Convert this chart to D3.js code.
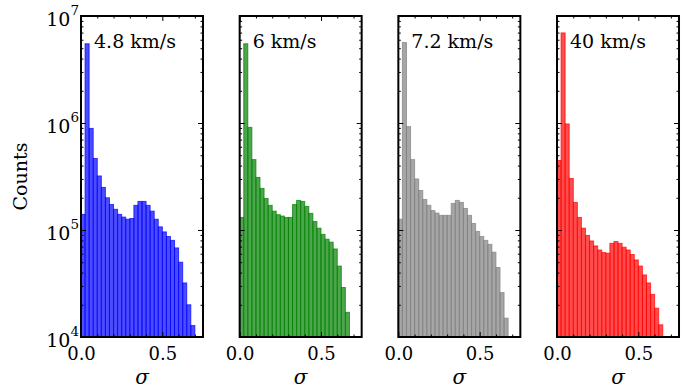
<!DOCTYPE html>
<html>
<head>
<meta charset="utf-8">
<script src="https://cdn.jsdelivr.net/npm/d3@7"></script>
<style>
    body { margin: 0; background: #fff; }
    text { font-family: "DejaVu Serif", serif; fill: #000; }
</style>
</head>
<body>
<svg id="chart"></svg>
<script>
// histogram counts per 0.025-wide sigma bin, starting at 0
const binWidth = 0.025;
const counts48 = [1.4e5, 5.5e6, 8.9e5, 4.66e5, 3.2e5, 2.5e5, 2.0e5, 1.73e5, 1.56e5, 1.4e5, 1.32e5, 1.26e5, 1.28e5, 1.7e5,
    1.85e5, 1.85e5, 1.7e5, 1.5e5, 1.26e5, 1.07e5, 9.6e4, 8.7e4, 8.0e4, 6.8e4, 5.0e4, 3.2e4, 2.0e4, 1.28e4];
const counts6 = [1.31e5, 5.5e6, 9.1e5, 4.55e5, 3.1e5, 2.45e5, 1.97e5, 1.7e5, 1.5e5, 1.39e5, 1.35e5, 1.31e5, 1.31e5, 1.73e5,
    1.89e5, 1.85e5, 1.66e5, 1.43e5, 1.2e5, 1.04e5, 9.1e4, 8.2e4, 7.7e4, 6.65e4, 4.6e4, 2.9e4, 1.7e4];
const counts72 = [1.26e5, 5.65e6, 9.25e5, 4.55e5, 3.0e5, 2.34e5, 1.93e5, 1.7e5, 1.52e5, 1.44e5, 1.37e5, 1.37e5, 1.37e5, 1.77e5,
    1.89e5, 1.81e5, 1.59e5, 1.37e5, 1.15e5, 9.7e4, 8.7e4, 8.0e4, 7.35e4, 6.2e4, 4.46e4, 2.6e4, 1.5e4];
const counts40 = [4.46e5, 6.95e6, 9.8e5, 3.03e5, 1.81e5, 1.31e5, 1.04e5, 8.9e4, 7.9e4, 7.1e4, 6.5e4, 6.15e4, 6.07e4, 7.5e4,
    7.8e4, 7.5e4, 6.9e4, 6.5e4, 5.9e4, 5.25e4, 4.6e4, 3.8e4, 3.2e4, 2.5e4, 1.86e4, 1.3e4];

const panelLabels = ['4.8 km/s', '6 km/s', '7.2 km/s', '40 km/s'];
const panelColors = ['#0000ff', '#008000', '#808080', '#ff0000'];
const panelCounts = [counts48, counts6, counts72, counts40];

const xTicks = [0, 0.5];
const xMinorTicks = [0.1, 0.2, 0.3, 0.4, 0.6, 0.7];
const yTicks = [1e4, 1e5, 1e6, 1e7];
const yExponents = ['4', '5', '6', '7'];

const config = {
    containerWidth: 692,
    containerHeight: 392,
    left: 81,
    top: 16,
    width: 122,
    height: 321,
    step: 158.67
};

const svg = d3.select('#chart')
    .attr('width', config.containerWidth)
    .attr('height', config.containerHeight);

const xScale = d3.scaleLinear().domain([0, 0.75]).range([0, config.width]);
const yScale = d3.scaleLog().domain([1e4, 1e7]).range([config.height, 0]);

// minor log ticks 2..9 per decade
const yMinorTicks = [];
[1e4, 1e5, 1e6].forEach(d => {
    for (let k = 2; k <= 9; k++) yMinorTicks.push(d * k);
});

panelCounts.forEach((counts, p) => {
    const g = svg.append('g')
        .attr('transform', `translate(${config.left + p * config.step},${config.top})`);

    const bins = counts.map((c, i) => ({x0: i * binWidth, x1: (i + 1) * binWidth, count: c}));

    g.selectAll('.bar')
        .data(bins)
        .join('rect')
        .attr('class', 'bar')
        .attr('x', d => xScale(d.x0))
        .attr('width', d => xScale(d.x1) - xScale(d.x0))
        .attr('y', d => yScale(d.count))
        .attr('height', d => config.height - yScale(d.count))
        .attr('fill', panelColors[p])
        .attr('fill-opacity', 0.7)
        .attr('stroke', panelColors[p])
        .attr('stroke-opacity', 0.7)
        .attr('stroke-width', 1);

    // ticks point inward on all four sides
    const axes = [
        [d3.axisLeft(yScale).tickValues(yTicks).tickSize(-5), 0, 0],
        [d3.axisLeft(yScale).tickValues(yMinorTicks).tickSize(-2.5), 0, 0],
        [d3.axisRight(yScale).tickValues(yTicks).tickSize(-5), config.width, 0],
        [d3.axisRight(yScale).tickValues(yMinorTicks).tickSize(-2.5), config.width, 0],
        [d3.axisTop(xScale).tickValues(xTicks).tickSize(-5), 0, 0],
        [d3.axisTop(xScale).tickValues(xMinorTicks).tickSize(-2.5), 0, 0],
        [d3.axisBottom(xScale).tickValues(xMinorTicks).tickSize(-2.5), 0, config.height]
    ];
    axes.forEach(([axis, tx, ty]) => {
        g.append('g')
            .attr('transform', `translate(${tx},${ty})`)
            .call(axis.tickFormat(''))
            .call(a => a.select('.domain').remove())
            .call(a => a.selectAll('line').attr('stroke', '#000').attr('stroke-width', 1));
    });

    g.append('g')
        .attr('transform', `translate(0,${config.height})`)
        .call(d3.axisBottom(xScale).tickValues(xTicks).tickSize(-5).tickPadding(10).tickFormat(d3.format('.1f')))
        .call(a => a.select('.domain').remove())
        .call(a => a.selectAll('line').attr('stroke', '#000'))
        .call(a => a.selectAll('text')
            .attr('font-family', '"DejaVu Serif", serif')
            .attr('font-size', 18)
            .attr('fill', '#000'));

    g.append('rect')
        .attr('width', config.width)
        .attr('height', config.height)
        .attr('fill', 'none')
        .attr('stroke', '#000')
        .attr('stroke-width', 2);

    g.append('text')
        .attr('x', 13)
        .attr('y', 32)
        .attr('font-size', 19)
        .text(panelLabels[p]);

    g.append('text')
        .attr('x', config.width / 2)
        .attr('y', 368)
        .attr('text-anchor', 'middle')
        .attr('font-size', 20)
        .attr('font-style', 'italic')
        .text('σ');

    if (p === 0) {
        const labels = g.selectAll('.ylabel')
            .data(yTicks)
            .join('text')
            .attr('class', 'ylabel')
            .attr('text-anchor', 'end')
            .attr('x', -2)
            .attr('y', d => yScale(d) + 9.5)
            .attr('font-size', 19);
        labels.append('tspan').text('10');
        labels.append('tspan')
            .attr('dy', -11)
            .attr('font-size', 13.5)
            .text((d, i) => yExponents[i]);

        g.append('text')
            .attr('transform', `translate(${27 - config.left},${config.height / 2}) rotate(-90)`)
            .attr('text-anchor', 'middle')
            .attr('font-size', 19)
            .text('Counts');
    }
});
</script>
</body>
</html>
